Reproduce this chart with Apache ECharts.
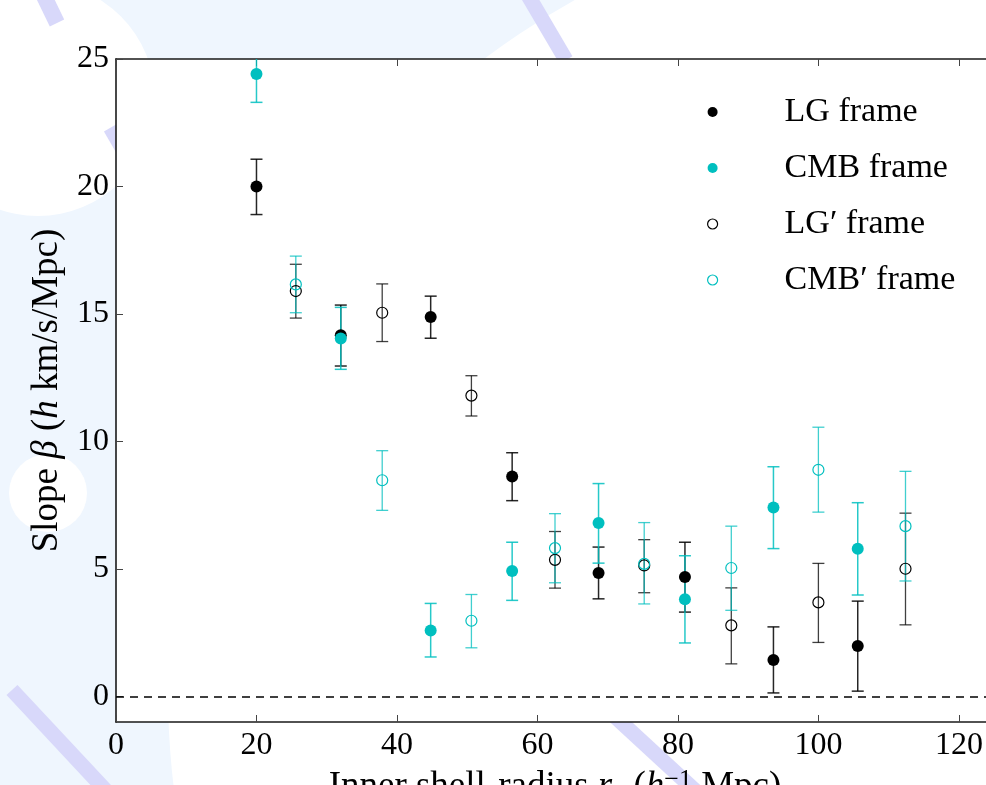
<!DOCTYPE html>
<html>
<head>
<meta charset="utf-8">
<script src="https://cdn.jsdelivr.net/npm/echarts@6/dist/echarts.min.js"></script>
<style>
html,body{margin:0;padding:0;background:#eff6fe;}
#chart{width:986px;height:785px;}
</style>
</head>
<body>
<div id="chart"></div>
<script>
// ---- data ----
const seriesNames = ['LG frame', 'CMB frame', 'LG\u2032 frame', 'CMB\u2032 frame'];

const xLG = [20.0, 32.0, 44.8, 56.4, 68.7, 81.0, 93.6, 105.6];
const yLG = [20.0, 14.17, 14.88, 8.63, 4.84, 4.69, 1.43, 1.98];
const loLG = [18.9, 12.96, 14.05, 7.68, 3.83, 3.31, 0.14, 0.21];
const hiLG = [21.07, 15.35, 15.7, 9.56, 5.86, 6.05, 2.73, 3.74];

const xCMB = [20.0, 32.0, 44.8, 56.4, 68.7, 81.0, 93.6, 105.6];
const yCMB = [24.41, 14.04, 2.59, 4.92, 6.80, 3.81, 7.41, 5.79];
const loCMB = [23.3, 12.83, 1.55, 3.77, 5.23, 2.1, 5.8, 3.98];
const hiCMB = [25.5, 15.26, 3.65, 6.05, 8.35, 5.52, 9.01, 7.6];

const xLGp = [25.6, 37.9, 50.6, 62.5, 75.2, 87.6, 100.0, 112.4];
const yLGp = [15.9, 15.05, 11.80, 5.36, 5.14, 2.79, 3.69, 5.01];
const loLGp = [14.84, 13.92, 11.0, 4.25, 4.07, 1.28, 2.12, 2.81];
const hiLGp = [16.95, 16.18, 12.58, 6.47, 6.15, 4.26, 5.22, 7.19];

const xCMBp = [25.6, 37.9, 50.6, 62.5, 75.2, 87.6, 100.0, 112.4];
const yCMBp = [16.16, 8.48, 2.97, 5.82, 5.2, 5.04, 8.89, 6.68];
const loCMBp = [15.05, 7.3, 1.91, 4.46, 3.63, 3.38, 7.23, 4.53];
const hiCMBp = [17.27, 9.64, 4.0, 7.17, 6.82, 6.68, 10.56, 8.83];

const xTicks = [0, 20, 40, 60, 80, 100, 120];
const yTicks = [0, 5, 10, 15, 20, 25];
const refLine = 0;

// ---- build ----
const FONT = '"Liberation Serif", "DejaVu Serif", serif';
const BLACK = '#000000';
const CYAN = '#00bfbf';

function errSeries(xs, lo, hi, color, width, opacity) {
  return {
    type: 'custom',
    silent: true,
    clip: true,
    z: 2,
    data: xs.map((x, i) => [x, lo[i], hi[i]]),
    renderItem: function (params, api) {
      const x = api.value(0);
      const p1 = api.coord([x, api.value(1)]);
      const p2 = api.coord([x, api.value(2)]);
      const cap = 6;
      const style = { stroke: color, lineWidth: width, opacity: opacity };
      return {
        type: 'group',
        children: [
          { type: 'line', shape: { x1: p1[0], y1: p1[1], x2: p2[0], y2: p2[1] }, style: style },
          { type: 'line', shape: { x1: p1[0] - cap, y1: p1[1], x2: p1[0] + cap, y2: p1[1] }, style: style },
          { type: 'line', shape: { x1: p2[0] - cap, y1: p2[1], x2: p2[0] + cap, y2: p2[1] }, style: style }
        ]
      };
    }
  };
}

function pointSeries(name, xs, ys, color, filled) {
  return {
    name: name,
    type: 'scatter',
    z: 3,
    symbol: 'circle',
    symbolSize: filled ? 12 : 11,
    itemStyle: filled
      ? { color: color, opacity: 1 }
      : { color: 'rgba(255,255,255,0)', borderColor: color, borderWidth: 1.2, opacity: 1 },
    emphasis: { disabled: true },
    data: xs.map((x, i) => [x, ys[i]])
  };
}

const LAV = '#d8d8fa';
const graphics = [
  { type: 'circle', shape: { cx: 960, cy: 692, r: 792 }, style: { fill: '#ffffff' }, z: -20, silent: true },
  { type: 'circle', shape: { cx: 38, cy: 99, r: 117 }, style: { fill: '#ffffff' }, z: -19, silent: true },
  { type: 'circle', shape: { cx: 48, cy: 493, r: 39 }, style: { fill: '#ffffff' }, z: -19, silent: true },
  { type: 'line', shape: { x1: 42, y1: -8, x2: 57, y2: 23 }, style: { stroke: LAV, lineWidth: 16 }, z: -18, silent: true },
  { type: 'line', shape: { x1: 110, y1: 128, x2: 140, y2: 180 }, style: { stroke: LAV, lineWidth: 14 }, z: -18, silent: true },
  { type: 'line', shape: { x1: 526, y1: -8, x2: 566, y2: 60 }, style: { stroke: LAV, lineWidth: 15 }, z: -18, silent: true },
  { type: 'line', shape: { x1: 610, y1: 712, x2: 700, y2: 795 }, style: { stroke: LAV, lineWidth: 15 }, z: -18, silent: true },
  { type: 'line', shape: { x1: 12, y1: 690, x2: 110, y2: 795 }, style: { stroke: LAV, lineWidth: 15 }, z: -18, silent: true }
];

const chart = echarts.init(document.getElementById('chart'), null, { renderer: 'canvas' });

const axisLine = { show: true, onZero: false, lineStyle: { color: '#1a1a1a', width: 1.6 } };
const tickStyle = { show: true, inside: true, length: 7, lineStyle: { color: '#444', width: 1 } };

const option = {
  backgroundColor: '#eff6fe',
  animation: false,
  textStyle: { fontFamily: FONT },
  graphic: graphics,
  grid: {
    left: 116, top: 59, width: 878, height: 663,
    outerBoundsMode: 'none',
    containLabel: false,
    show: true, backgroundColor: '#ffffff', borderWidth: 0, z: 0
  },
  legend: {
    orient: 'vertical',
    left: 707, top: 95,
    padding: 0,
    itemWidth: 12, itemHeight: 10,
    itemGap: 22,
    selectedMode: false,
    textStyle: { fontFamily: FONT, fontSize: 34, color: '#000', lineHeight: 34, padding: [0, 0, 0, 61] },
    data: [
      { name: seriesNames[0], icon: 'circle' },
      { name: seriesNames[1], icon: 'circle' },
      { name: seriesNames[2], icon: 'circle', itemStyle: { color: 'rgba(255,255,255,0)', borderColor: BLACK, borderWidth: 1.2 } },
      { name: seriesNames[3], icon: 'circle', itemStyle: { color: 'rgba(255,255,255,0)', borderColor: CYAN, borderWidth: 1.2 } }
    ]
  },
  xAxis: [
    {
      type: 'value', min: 0, max: 125, interval: 20,
      position: 'bottom',
      axisLine: axisLine,
      axisTick: tickStyle,
      splitLine: { show: false },
      axisLabel: {
        margin: 8, fontSize: 32, color: '#000', fontFamily: FONT,
        customValues: xTicks,
        formatter: v => xTicks.includes(v) ? String(v) : ''
      },
      name: 'Inner shell-radius {i|r}{sub|0} ({i|h}{sup|\u22121} Mpc)',
      nameLocation: 'middle',
      nameGap: 32,
      nameTextStyle: {
        fontSize: 37, color: '#000', fontFamily: FONT, verticalAlign: 'top',
        rich: {
          i: { fontSize: 37, fontStyle: 'italic', fontFamily: FONT, color: '#000' },
          sub: { fontSize: 24, fontFamily: FONT, color: '#000', verticalAlign: 'bottom', padding: [10, 0, 0, 0] },
          sup: { fontSize: 26, fontFamily: FONT, color: '#000', verticalAlign: 'top', padding: [0, 0, 14, 0] }
        }
      }
    },
    {
      type: 'value', min: 0, max: 125, interval: 20,
      position: 'top',
      axisLine: axisLine,
      axisTick: tickStyle,
      axisLabel: { show: false },
      splitLine: { show: false }
    }
  ],
  yAxis: [
    {
      type: 'value', min: -1, max: 25,
      position: 'left',
      axisLine: axisLine,
      axisTick: Object.assign({}, tickStyle, { customValues: yTicks }),
      splitLine: { show: false },
      axisLabel: {
        margin: 7, fontSize: 32, color: '#000', fontFamily: FONT,
        customValues: yTicks
      },
      name: 'Slope {i|\u03b2} ({i|h} km/s/Mpc)',
      nameLocation: 'middle',
      nameRotate: 90,
      nameGap: 48,
      nameTextStyle: {
        fontSize: 37, color: '#000', fontFamily: FONT,
        rich: {
          i: { fontSize: 37, fontStyle: 'italic', fontFamily: FONT, color: '#000' }
        }
      }
    },
    {
      type: 'value', min: -1, max: 25,
      position: 'right',
      axisLine: axisLine,
      axisTick: Object.assign({}, tickStyle, { customValues: yTicks }),
      axisLabel: { show: false },
      splitLine: { show: false }
    }
  ],
  series: [
    Object.assign(errSeries(xLG, loLG, hiLG, BLACK, 1.5, 0.85), {
      markLine: {
        silent: true, symbol: ['none', 'none'], label: { show: false },
        lineStyle: { type: [8, 6], color: '#000', width: 1.5 },
        data: [{ yAxis: refLine }]
      }
    }),
    pointSeries(seriesNames[0], xLG, yLG, BLACK, true),
    errSeries(xCMB, loCMB, hiCMB, CYAN, 1.5, 0.85),
    pointSeries(seriesNames[1], xCMB, yCMB, CYAN, true),
    errSeries(xLGp, loLGp, hiLGp, BLACK, 1.3, 0.75),
    pointSeries(seriesNames[2], xLGp, yLGp, BLACK, false),
    errSeries(xCMBp, loCMBp, hiCMBp, CYAN, 1.3, 0.75),
    pointSeries(seriesNames[3], xCMBp, yCMBp, CYAN, false)
  ]
};

chart.setOption(option);
</script>
</body>
</html>
